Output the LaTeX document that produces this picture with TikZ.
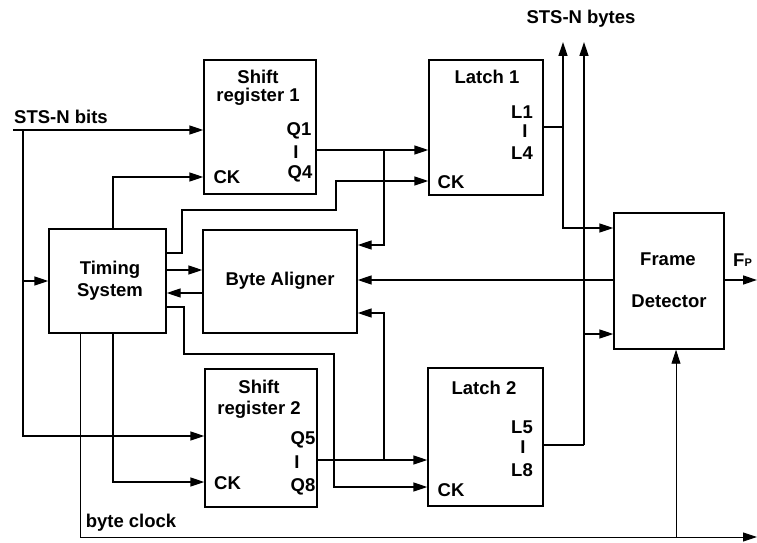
\documentclass[tikz,border=0pt]{standalone}
\usepackage{fontspec}
\setmainfont{Liberation Sans}
\usetikzlibrary{arrows.meta}
\begin{document}
\begin{tikzpicture}[x=1pt,y=-1pt,
  blk/.style={draw,line width=1.4pt,inner sep=0pt},
  lbl/.style={inner sep=0pt,font=\fontsize{18.5}{20}\selectfont\bfseries},
  wire/.style={line width=1.4pt},
  arr/.style={wire,-{Triangle[length=14pt,width=9pt]}},
  bwire/.style={line width=0.9pt},
  barr/.style={bwire,-{Triangle[length=14pt,width=9pt]}},
]
\useasboundingbox (0,0) rectangle (757,543);
% ---------- boxes
\node[blk,minimum width=112pt,minimum height=134pt] (sr1) at (260,127) {};
\node[blk,minimum width=114pt,minimum height=135pt] (l1)  at (486,127.5) {};
\node[blk,minimum width=117pt,minimum height=104pt] (ts)  at (107.5,281) {};
\node[blk,minimum width=154pt,minimum height=103pt] (ba)  at (280,281.5) {};
\node[blk,minimum width=110pt,minimum height=136pt] (fd)  at (669,281) {};
\node[blk,minimum width=112pt,minimum height=138pt] (sr2) at (261,438) {};
\node[blk,minimum width=115pt,minimum height=138pt] (l2)  at (485.5,437) {};
% ---------- texts
\node[lbl] (tbits)  at (61,117) {STS-N bits};
\node[lbl] (tbytes) at (581,19) {STS-N bytes};
\node[lbl] (tclk)   at (131,523) {byte clock};
\node[lbl,anchor=west] (tfp) at (733,260) {F{\fontsize{11}{11}\selectfont P}};
\node[lbl] (sr1a) at (258,77) {Shift};
\node[lbl] (sr1b) at (258,97) {register 1};
\node[lbl] (sr1q1) at (299,131) {Q1};
\node[lbl] (sr1i)  at (296,152) {I};
\node[lbl] (sr1q4) at (300,174) {Q4};
\node[lbl] (sr1ck) at (227,177) {CK};
\node[lbl] (l1a)  at (487,77) {Latch 1};
\node[lbl] (l1l1) at (522,112) {L1};
\node[lbl] (l1i)  at (525,131) {I};
\node[lbl] (l1l4) at (522,153) {L4};
\node[lbl] (l1ck) at (451,182) {CK};
\node[lbl] (tsa) at (110,270) {Timing};
\node[lbl] (tsb) at (110,292) {System};
\node[lbl] (baa) at (280,281) {Byte Aligner};
\node[lbl] (fda) at (668,259) {Frame};
\node[lbl] (fdb) at (669,301) {Detector};
\node[lbl] (sr2a) at (259,387) {Shift};
\node[lbl] (sr2b) at (259,410) {register 2};
\node[lbl] (sr2q5) at (303,440) {Q5};
\node[lbl] (sr2i)  at (297,462) {I};
\node[lbl] (sr2q8) at (303,487) {Q8};
\node[lbl] (sr2ck) at (227.5,483) {CK};
\node[lbl] (l2a)  at (484,388) {Latch 2};
\node[lbl] (l2l5) at (522,427) {L5};
\node[lbl] (l2i)  at (523,447) {I};
\node[lbl] (l2l8) at (522,470) {L8};
\node[lbl] (l2ck) at (451,490) {CK};
% ---------- helper coordinates
\coordinate (bitsStart) at (13,130);
\coordinate (bitsJ) at (23,130);
\coordinate (sr2in) at (23,436);
\coordinate (tsIn) at (23,281);
\coordinate (ck1) at (113,177);
\coordinate (t2) at (182,253);
\coordinate (t2b) at (336,210);
\coordinate (ck2) at (336,181);
\coordinate (ya) at (0,270);
\coordinate (yb) at (0,293);
\coordinate (t3) at (184,307);
\coordinate (t3b) at (334,354);
\coordinate (ck4) at (334,487);
\coordinate (ck3) at (113,482);
\coordinate (yq1) at (0,150);
\coordinate (j1) at (384,150);
\coordinate (yba1) at (0,245);
\coordinate (yq2) at (0,460);
\coordinate (j2) at (384,460);
\coordinate (yba2) at (0,313);
\coordinate (bus1) at (563,127);
\coordinate (top1) at (563,42);
\coordinate (yfd1) at (0,228);
\coordinate (bus2) at (584,445);
\coordinate (top2) at (584,42);
\coordinate (j3) at (584,334);
\coordinate (y280) at (0,280);
\coordinate (fout) at (757,280);
\coordinate (bcc) at (80,537);
\coordinate (bcEnd) at (757,537);
\coordinate (bcJ) at (676,537);
% ---------- connectors
\draw[arr] (bitsStart) -- (bitsStart -| sr1.west);
\draw[arr] (bitsJ) |- (sr2in -| sr2.west);
\draw[arr] (tsIn) -- (tsIn -| ts.west);
\draw[arr] (ts.north -| ck1) |- (ck1 -| sr1.west);
\draw[arr] (ts.east |- t2) -- (t2) |- (t2b) |- (ck2 -| l1.west);
\draw[arr] (ts.east |- ya) -- (ba.west |- ya);
\draw[arr] (ba.west |- yb) -- (ts.east |- yb);
\draw[arr] (ts.east |- t3) -- (t3) |- (t3b) |- (ck4 -| l2.west);
\draw[arr] (ts.south -| ck3) |- (ck3 -| sr2.west);
\draw[arr] (sr1.east |- yq1) -- (l1.west |- yq1);
\draw[arr] (j1) |- (ba.east |- yba1);
\draw[arr] (sr2.east |- yq2) -- (l2.west |- yq2);
\draw[arr] (j2) |- (ba.east |- yba2);
\draw[wire] (l1.east |- bus1) -- (bus1);
\draw[arr] (bus1) -- (top1);
\draw[arr] (bus1) |- (yfd1 -| fd.west);
\draw[wire] (l2.east |- bus2) -- (bus2);
\draw[arr] (bus2) -- (top2);
\draw[arr] (j3) -- (j3 -| fd.west);
\draw[arr] (fd.west |- y280) -- (ba.east |- y280);
\draw[arr] (fd.east |- y280) -- (fout);
\draw[barr] (ts.south -| bcc) |- (bcEnd);
\draw[barr] (bcJ) -- (bcJ |- fd.south);
\end{tikzpicture}
\end{document}
